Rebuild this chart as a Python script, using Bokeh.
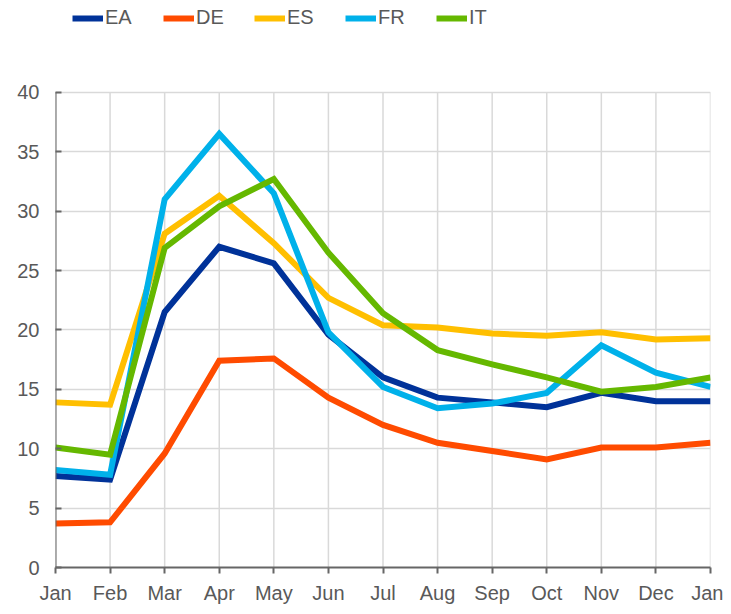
from bokeh.plotting import figure
from bokeh.models import Legend, LegendItem, FixedTicker, Range1d
from bokeh.embed import file_html
from bokeh.resources import INLINE

months = ["Jan", "Feb", "Mar", "Apr", "May", "Jun", "Jul", "Aug", "Sep", "Oct", "Nov", "Dec", "Jan"]
ea = [7.7, 7.4, 21.5, 27.0, 25.6, 19.6, 16.0, 14.3, 13.9, 13.5, 14.7, 14.0, 14.0]
de = [3.7, 3.8, 9.6, 17.4, 17.6, 14.3, 12.0, 10.5, 9.8, 9.1, 10.1, 10.1, 10.5]
es = [13.9, 13.7, 28.1, 31.3, 27.3, 22.7, 20.4, 20.2, 19.7, 19.5, 19.8, 19.2, 19.3]
fr = [8.2, 7.8, 31.0, 36.5, 31.5, 19.8, 15.2, 13.4, 13.8, 14.7, 18.7, 16.4, 15.2]
it = [10.1, 9.5, 26.9, 30.4, 32.7, 26.5, 21.4, 18.3, 17.1, 16.0, 14.8, 15.2, 16.0]
series_names = ["EA", "DE", "ES", "FR", "IT"]
series_values = [ea, de, es, fr, it]
colors = ["#003299", "#FF4B00", "#FFBF00", "#00B1EA", "#65B800"]
y_ticks = [0, 5, 10, 15, 20, 25, 30, 35, 40]
y_max = 40

FONT = "Liberation Sans"
TXT = "#595959"
AX = "#666666"

x = list(range(len(months)))

# frame extends above the axis top so the legend can sit inside it
p = figure(width=723, height=606, output_backend="svg", toolbar_location=None,
           x_range=Range1d(0, len(months) - 1), y_range=Range1d(0, 47.73),
           min_border_left=55, min_border_right=13, min_border_top=0, min_border_bottom=38)
p.outline_line_color = None
p.background_fill_color = "white"
p.border_fill_color = "white"

# vertical grid lines only up to the axis top
p.segment(x0=x, y0=[0] * len(x), x1=x, y1=[y_max] * len(x), line_color="#d9d9d9", line_width=1.5)

items = []
for name, vals, col in zip(series_names, series_values, colors):
    r = p.line(x, vals, line_color=col, line_width=6, line_join="miter")
    items.append(LegendItem(label=name, renderers=[r]))

# y axis line only from 0 to 40
p.segment(x0=[0], y0=[0], x1=[0], y1=[y_max], line_color=AX, line_width=2)

for ax in (p.xaxis[0], p.yaxis[0]):
    ax.major_tick_line_color = AX
    ax.major_tick_line_width = 2
    ax.minor_tick_line_color = None
    ax.major_label_text_font = FONT
    ax.major_label_text_font_size = "20px"
    ax.major_label_text_color = TXT

p.xaxis.axis_line_color = AX
p.xaxis.axis_line_width = 2
p.xaxis.ticker = FixedTicker(ticks=x)
p.xaxis.major_label_overrides = {i: m for i, m in enumerate(months)}
p.xaxis.major_tick_in = 0
p.xaxis.major_tick_out = 6
p.xaxis.major_label_standoff = 8

p.yaxis.axis_line_color = None
p.yaxis.ticker = FixedTicker(ticks=y_ticks)
p.yaxis.major_tick_in = 6
p.yaxis.major_tick_out = 0
p.yaxis.major_label_standoff = 16

p.xgrid.visible = False
p.ygrid.ticker = FixedTicker(ticks=y_ticks)
p.ygrid.grid_line_color = "#d9d9d9"
p.ygrid.grid_line_width = 1.5

legend = Legend(items=items, orientation="horizontal", location=(17, 538),
                glyph_width=31, glyph_height=20, label_standoff=2, label_width=58,
                spacing=0, padding=0, margin=0,
                label_text_font=FONT, label_text_font_size="20px", label_text_color=TXT,
                background_fill_alpha=0, border_line_color=None)
p.add_layout(legend, "center")

open("out.html", "w").write(file_html(p, INLINE))
